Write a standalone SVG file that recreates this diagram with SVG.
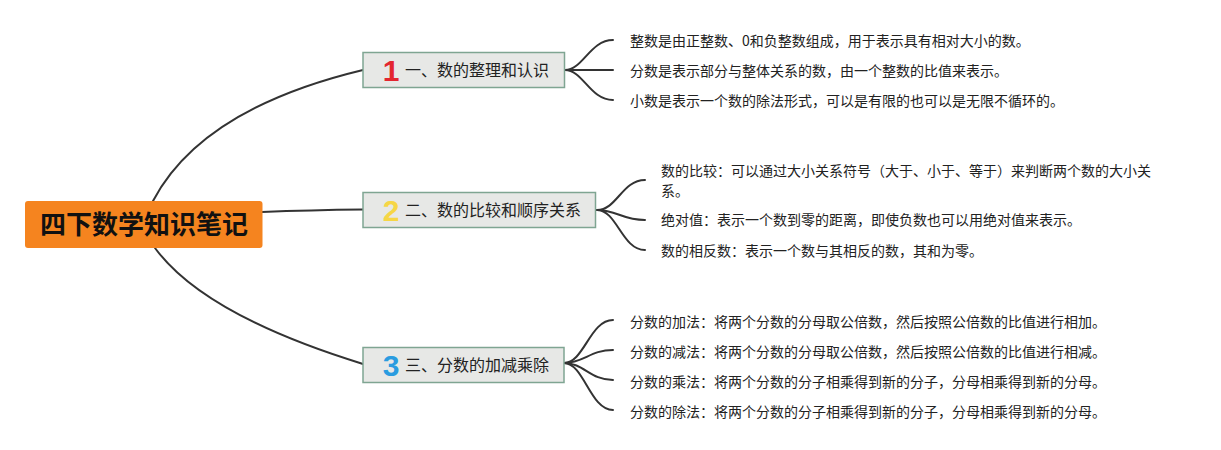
<svg xmlns="http://www.w3.org/2000/svg" width="1221" height="450" viewBox="0 0 1221 450">
<style>
.c{fill:none;stroke:#333;stroke-width:2;stroke-linecap:round}
.box{fill:#e7e8e6;stroke:#7fa592;stroke-width:1.5}
.bt{font-family:"Noto Sans CJK SC","Noto Sans",sans-serif;font-size:16px;fill:#222}
.num{font-family:"Liberation Sans","DejaVu Sans",sans-serif;font-weight:bold;font-size:30px;text-anchor:middle}
.lt{font-family:"Noto Sans CJK SC","Noto Sans",sans-serif;font-size:14px;fill:#222}
.rt{font-family:"Noto Sans CJK SC","Noto Sans",sans-serif;font-size:26px;font-weight:bold;fill:#111;text-anchor:middle}
</style>
<rect width="1221" height="450" fill="#fff"/>
<g id="connectors">
<path class="c" d="M153,201 Q201.6,108.7 363,70"/>
<path class="c" d="M262,212 Q310,210 363,209.5"/>
<path class="c" d="M155,248 Q204.4,315.2 363,364"/>
<path class="c" d="M565,70 C583,70 590,40 613,40"/>
<path class="c" d="M565,70 L613,70"/>
<path class="c" d="M565,70 C583,70 590,100 613,100"/>
<path class="c" d="M597,210 C617,210 622,180 645,180"/>
<path class="c" d="M597,210 C617,210 622,220 645,220"/>
<path class="c" d="M597,210 C617,210 622,250 645,250"/>
<path class="c" d="M564,363 C584,363 590,320 613,320"/>
<path class="c" d="M564,363 C584,363 590,350 613,350"/>
<path class="c" d="M564,363 C584,363 590,380 613,380"/>
<path class="c" d="M564,363 C584,363 590,410 613,410"/>
</g>
<g id="root">
<rect x="25" y="201" width="237.5" height="47" rx="3" fill="#f5841f"/>
<text class="rt" x="144" y="234">四下数学知识笔记</text>
</g>
<g id="topic1">
<rect class="box" x="363" y="52.5" width="201.5" height="35"/>
<text class="num" x="391" y="80.5" fill="#e32630">1</text>
<text class="bt" x="405" y="75.5">一、数的整理和认识</text>
</g>
<g id="topic2">
<rect class="box" x="363" y="192.5" width="232.5" height="35"/>
<text class="num" x="391" y="220.5" fill="#f6d646">2</text>
<text class="bt" x="405" y="215.5">二、数的比较和顺序关系</text>
</g>
<g id="topic3">
<rect class="box" x="363" y="347.5" width="201" height="35"/>
<text class="num" x="391" y="375.5" fill="#2a9ce0">3</text>
<text class="bt" x="405" y="370.5">三、分数的加减乘除</text>
</g>
<g id="leaf1-1"><text class="lt" x="630" y="46">整数是由正整数、0和负整数组成，用于表示具有相对大小的数。</text></g>
<g id="leaf1-2"><text class="lt" x="630" y="76">分数是表示部分与整体关系的数，由一个整数的比值来表示。</text></g>
<g id="leaf1-3"><text class="lt" x="630" y="106">小数是表示一个数的除法形式，可以是有限的也可以是无限不循环的。</text></g>
<g id="leaf2-1"><text class="lt" x="661" y="176">数的比较：可以通过大小关系符号（大于、小于、等于）来判断两个数的大小关</text><text class="lt" x="661" y="196">系。</text></g>
<g id="leaf2-2"><text class="lt" x="661" y="225">绝对值：表示一个数到零的距离，即使负数也可以用绝对值来表示。</text></g>
<g id="leaf2-3"><text class="lt" x="661" y="256">数的相反数：表示一个数与其相反的数，其和为零。</text></g>
<g id="leaf3-1"><text class="lt" x="630" y="327">分数的加法：将两个分数的分母取公倍数，然后按照公倍数的比值进行相加。</text></g>
<g id="leaf3-2"><text class="lt" x="630" y="357">分数的减法：将两个分数的分母取公倍数，然后按照公倍数的比值进行相减。</text></g>
<g id="leaf3-3"><text class="lt" x="630" y="387">分数的乘法：将两个分数的分子相乘得到新的分子，分母相乘得到新的分母。</text></g>
<g id="leaf3-4"><text class="lt" x="630" y="417">分数的除法：将两个分数的分子相乘得到新的分子，分母相乘得到新的分母。</text></g>
</svg>
